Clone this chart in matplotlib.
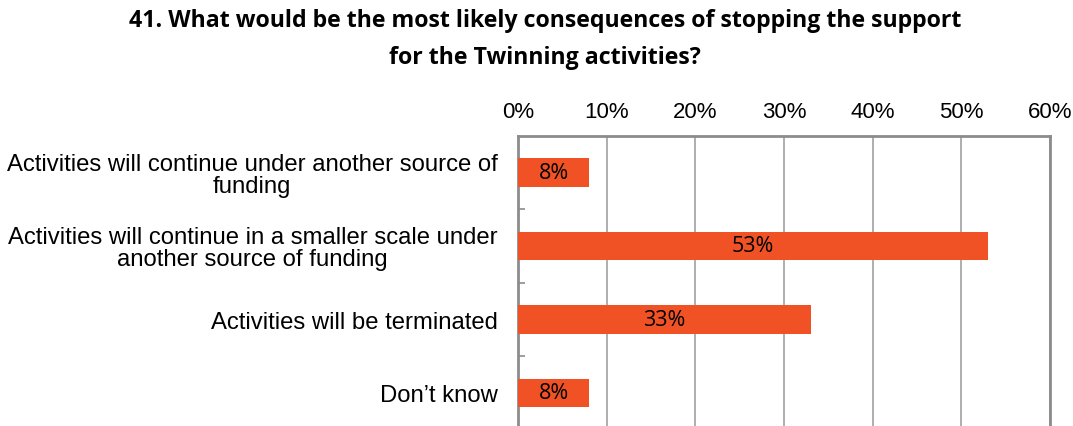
import matplotlib
matplotlib.use('Agg')
import matplotlib.pyplot as plt
from matplotlib.ticker import FixedLocator, PercentFormatter

# data
categories = [
    'Activities will continue under another source of\nfunding',
    'Activities will continue in a smaller scale under\nanother source of funding',
    'Activities will be terminated',
    'Don\u2019t know',
]
shares = [8, 53, 33, 8]
value_labels = ['8%', '53%', '33%', '8%']
x_ticks = [0, 10, 20, 30, 40, 50, 60]

bar_color = '#F15225'
frame_color = '#8C8C8C'
grid_color = '#A8A8A8'

fig = plt.figure(figsize=(10.73, 4.27), dpi=100)
ax = fig.add_axes([0.483, -0.0085, 0.4955, 0.6885])

y = list(range(len(categories)))
bars = ax.barh(y, shares, height=0.386, color=bar_color, zorder=3)

# value labels in the middle of each bar
for rect, lab in zip(bars, value_labels):
    ax.text(rect.get_width() / 2, rect.get_y() + rect.get_height() / 2, lab,
            ha='center', va='center', fontsize=15.5, family='Open Sans', color='black',
            zorder=4)

ax.set_xlim(0, 60)
ax.set_ylim(len(categories) - 0.5, -0.5)

# axis on top
ax.xaxis.tick_top()
ax.set_xticks(x_ticks)
ax.xaxis.set_major_formatter(PercentFormatter(decimals=0))
ax.tick_params(axis='x', length=0, pad=10, labelsize=16, labelcolor='black')
for t in ax.get_xticklabels():
    t.set_family('Liberation Sans')

ax.set_yticks(y)
ax.set_yticklabels(categories, fontsize=17.2, family='Liberation Sans',
                   ha='right', multialignment='center', linespacing=0.98)
ax.tick_params(axis='y', which='major', length=0, pad=15)
ax.yaxis.set_minor_locator(FixedLocator([0.5, 1.5, 2.5]))
ax.tick_params(axis='y', which='minor', direction='in', length=5,
               width=1.2, color=frame_color)

ax.grid(axis='x', color=grid_color, linewidth=1.3, zorder=0)
ax.set_axisbelow(True)
for s in ax.spines.values():
    s.set_color(frame_color)
    s.set_linewidth(2)
ax.spines['bottom'].set_visible(False)

# two-line title
fig.text(0.508, 1 - 21 / 427, '41. What would be the most likely consequences of stopping the support',
         ha='center', va='center', fontsize=16.7, fontweight='bold', family='Open Sans')
fig.text(0.508, 1 - 58 / 427, 'for the Twinning activities?',
         ha='center', va='center', fontsize=16.7, fontweight='bold', family='Open Sans')

fig.savefig('out.png', dpi=100)
